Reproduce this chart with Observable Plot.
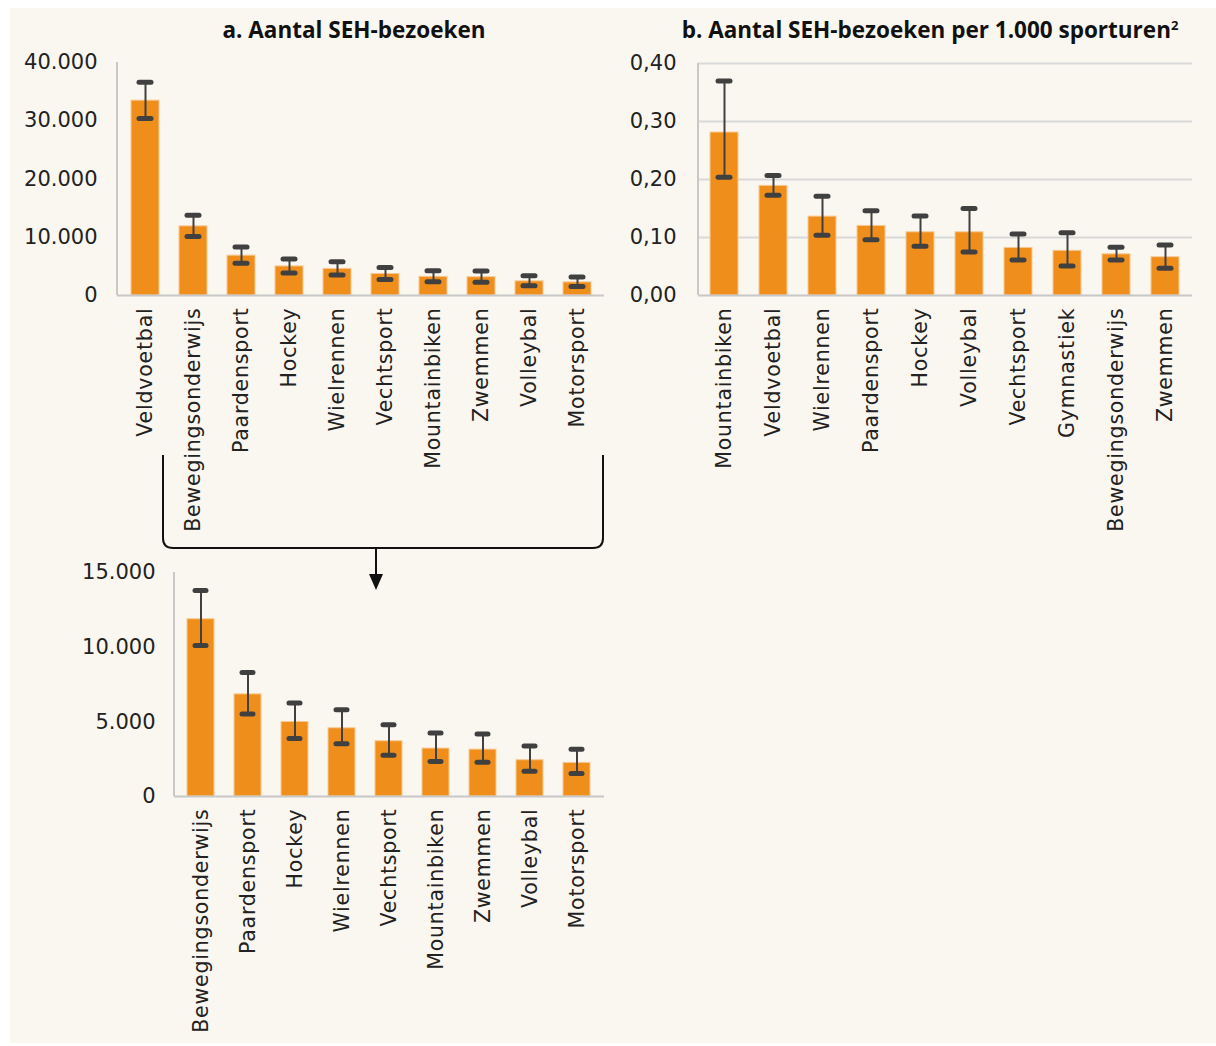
<!DOCTYPE html>
<html><head><meta charset="utf-8">
<script src="https://cdn.jsdelivr.net/npm/d3@7"></script>
<script src="https://cdn.jsdelivr.net/npm/@observablehq/plot@0.6"></script>
<style>
html,body{margin:0;padding:0;background:#fff;}
#root{position:relative;width:1216px;height:1046px;overflow:hidden;font-family:"DejaVu Sans",sans-serif;}
#panel{position:absolute;left:10px;top:8px;width:1206px;height:1035px;background:#faf7f0;}
.chart{position:absolute;}
.title{position:absolute;top:14px;font-family:"Open Sans",sans-serif;font-weight:700;font-size:22.5px;color:#111;white-space:nowrap;transform:translateX(-50%);}
#deco{position:absolute;left:0;top:0;pointer-events:none;}
</style></head>
<body>
<div id="root">
  <div id="panel"></div>
  <div class="title" style="left:354px">a. Aantal SEH-bezoeken</div>
  <div class="title" style="left:930px">b. Aantal SEH-bezoeken per 1.000 sporturen<sup style="font-size:13px">2</sup></div>
  <div class="chart" id="ca" style="left:0;top:40px"></div>
  <div class="chart" id="cb" style="left:620px;top:40px"></div>
  <div class="chart" id="cc" style="left:0;top:550px"></div>
  <svg id="deco" width="1216" height="1046">
    <path d="M163,455 L163,538 Q163,548 173,548 L593,548 Q603,548 603,538 L603,455" fill="none" stroke="#111" stroke-width="2"/>
    <line x1="376" y1="548" x2="376" y2="576" stroke="#111" stroke-width="2"/>
    <path d="M369,574 L383,574 L376,590 Z" fill="#111"/>
  </svg>
</div>
<script>
// Panel a: number of ED visits (SEH-bezoeken)
const catsA = ["Veldvoetbal","Bewegingsonderwijs","Paardensport","Hockey","Wielrennen","Vechtsport","Mountainbiken","Zwemmen","Volleybal","Motorsport"];
const valsA = [33450,11870,6840,4990,4570,3700,3210,3140,2430,2250];
const lowA  = [30400,10110,5520,3880,3540,2760,2340,2290,1690,1540];
const highA = [36600,13790,8310,6260,5810,4810,4250,4190,3390,3160];
const ticksA = [0,10000,20000,30000,40000];

// Panel b: ED visits per 1,000 sport hours
const catsB = ["Mountainbiken","Veldvoetbal","Wielrennen","Paardensport","Hockey","Volleybal","Vechtsport","Gymnastiek","Bewegingsonderwijs","Zwemmen"];
const valsB = [0.281,0.189,0.136,0.120,0.109,0.109,0.082,0.077,0.071,0.066];
const lowB  = [0.204,0.173,0.104,0.096,0.085,0.075,0.061,0.051,0.061,0.047];
const highB = [0.370,0.207,0.171,0.146,0.137,0.150,0.106,0.108,0.083,0.087];
const ticksB = [0,0.1,0.2,0.3,0.4];

// Inset: panel a without Veldvoetbal
const catsC = catsA.slice(1), valsC = valsA.slice(1), lowC = lowA.slice(1), highC = highA.slice(1);
const ticksC = [0,5000,10000,15000];

const nl = d3.formatLocale({decimal:",", thousands:".", grouping:[3], currency:["€",""]});
const fmtInt = nl.format(",d");
const fmt2 = nl.format(".2f");

const ORANGE = "#EF8E1B", EDGE = "#f8c994", ERR = "#404040", AXIS = "#c8c8c8";

function chart(cats, vals, lo, hi, o) {
  const data = cats.map((c,i)=>({c, v:vals[i], lo:lo[i], hi:hi[i]}));
  const leftLine = (index, scales, values, dims) => d3.create("svg:line")
    .attr("x1", dims.marginLeft).attr("x2", dims.marginLeft)
    .attr("y1", dims.marginTop).attr("y2", dims.height - dims.marginBottom)
    .attr("stroke", AXIS).attr("stroke-width", 2).node();
  const svg = Plot.plot({
    width: o.width, height: o.height,
    marginLeft: o.ml, marginRight: o.mr, marginTop: o.mt, marginBottom: o.mb,
    style: {background:"transparent", fontFamily:"'DejaVu Sans', sans-serif", color:"#222", overflow:"visible"},
    x: {domain: cats, paddingInner: 0.42, paddingOuter: 0.21, label: null},
    y: {domain: [0, o.ymax], label: null},
    marks: [
      o.grid ? Plot.ruleY(o.ticks.filter(t=>t>0), {stroke:"#d9d9d9", strokeWidth:2}) : null,
      Plot.barY(data, {x:"c", y:"v", fill:ORANGE, stroke:EDGE, strokeWidth:1}),
      leftLine,
      Plot.ruleY([0], {stroke:AXIS, strokeWidth:2}),
      Plot.ruleX(data, {x:"c", y1:"lo", y2:"hi", stroke:ERR, strokeWidth:2}),
      Plot.tickY(data, {x:"c", y:"lo", stroke:ERR, strokeWidth:5, strokeLinecap:"round", insetLeft:8, insetRight:8}),
      Plot.tickY(data, {x:"c", y:"hi", stroke:ERR, strokeWidth:5, strokeLinecap:"round", insetLeft:8, insetRight:8}),
      Plot.axisY({ticks:o.ticks, tickFormat:o.fmt, tickSize:0, tickPadding:o.tp, label:null, fontSize:21}),
      Plot.axisX({tickRotate:-90, tickSize:0, tickPadding:12, label:null, fontSize:20.5})
    ]
  });
  d3.select(svg).selectAll('g[aria-label="x-axis tick label"] text').attr("letter-spacing", "0.8px");
  return svg;
}

document.getElementById("ca").append(chart(catsA, valsA, lowA, highA,
  {width:620, height:505, ml:117, mr:16, mt:22, mb:250, ymax:40000, ticks:ticksA, fmt:fmtInt, tp:20, grid:false}));
document.getElementById("cb").append(chart(catsB, valsB, lowB, highB,
  {width:596, height:505, ml:78, mr:24, mt:23, mb:250, ymax:0.4, ticks:ticksB, fmt:fmt2, tp:22, grid:true}));
document.getElementById("cc").append(chart(catsC, valsC, lowC, highC,
  {width:620, height:496, ml:174, mr:16, mt:22, mb:250, ymax:15000, ticks:ticksC, fmt:fmtInt, tp:19, grid:false}));
</script>
</body></html>
